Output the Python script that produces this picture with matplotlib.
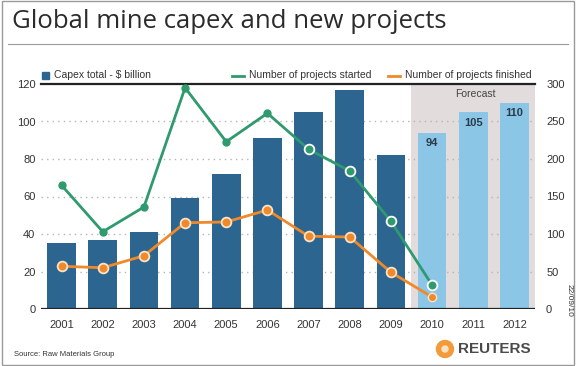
import matplotlib.pyplot as plt
import matplotlib.patches as mpatches
from matplotlib.lines import Line2D
import numpy as np

plt.rcParams["font.family"] = ["Liberation Sans", "DejaVu Sans"]

YEARS = ["2001", "2002", "2003", "2004", "2005", "2006", "2007", "2008",
         "2009", "2010", "2011", "2012"]
CAPEX = [35, 37, 41, 59, 72, 91, 105, 117, 82, 94, 105, 110]
STARTED = [165, 103, 136, 295, 223, 261, 213, 184, 117, 32]
FINISHED = [57, 55, 71, 115, 116, 132, 97, 96, 49, 16]
FORECAST_LABELS = ["94", "105", "110"]
LEFT_TICKS = [0, 20, 40, 60, 80, 100, 120]
RIGHT_TICKS = [0, 50, 100, 150, 200, 250, 300]

dark_blue = "#2c6590"
light_blue = "#8cc6e7"
green = "#2f9a6e"
orange = "#f0892a"
shade = "#e2dcdc"
grey_text = "#333333"

fig = plt.figure(figsize=(5.76, 3.66), dpi=100)
W, H = 576, 366

# frame and title
fig.patches.append(mpatches.Rectangle((0.004, 0.004), 0.992, 0.992, transform=fig.transFigure,
                                      fill=False, edgecolor="#9a9a9a", lw=1))
fig.text(12 / W, 1 - 22 / H, "Global mine capex and new projects", fontsize=18.5,
         family=["Open Sans", "DejaVu Sans"], color="#2b2b2b", va="center", ha="left")
fig.lines.append(Line2D([8 / W, 568 / W], [1 - 44 / H, 1 - 44 / H], transform=fig.transFigure,
                        color="#9a9a9a", lw=0.8))

ax = fig.add_axes([41 / W, 1 - 309 / H, 494 / W, 225 / H])
x = np.arange(len(YEARS))

ax.axvspan(8.5, 11.5, color=shade, zorder=0, lw=0)
for v in LEFT_TICKS[1:-1]:
    ax.axhline(v, color="#b5b5b5", lw=1, ls=(0, (1, 3)), zorder=1)

colors = [dark_blue] * 9 + [light_blue] * 3
ax.bar(x, CAPEX, width=0.7, color=colors, zorder=2)
for i, lab in zip(x[9:], FORECAST_LABELS):
    ax.text(i, CAPEX[i] - 3, lab, ha="center", va="top", fontsize=8, fontweight="bold",
            color="#2b3a4a", zorder=5)
ax.text(10.05, 120 - 2.5, "Forecast", ha="center", va="top", fontsize=7.5, color="#444444")

ax.axhline(0, color="#222222", lw=1.6, zorder=6)
ax.axhline(120, color="#222222", lw=1.6, zorder=6, clip_on=False)

ax.set_xlim(-0.5, 11.5)
ax.set_ylim(0, 120)
ax.set_yticks(LEFT_TICKS)
ax.set_xticks(x)
ax.set_xticklabels(YEARS)
ax.tick_params(length=0, labelsize=8, colors=grey_text, pad=8)
ax.tick_params(axis="y", pad=4)
for s in ax.spines.values():
    s.set_visible(False)

ax2 = ax.twinx()
ax2.set_ylim(0, 300)
ax2.set_yticks(RIGHT_TICKS)
ax2.tick_params(length=0, labelsize=8, colors=grey_text, pad=8)
for s in ax2.spines.values():
    s.set_visible(False)

xl = x[:len(STARTED)]
ax2.plot(xl, STARTED, color=green, lw=2, zorder=3)
ax2.plot(xl[:6], STARTED[:6], "o", color=green, ms=5, zorder=4)
ax2.plot(xl[6:], STARTED[6:], "o", color=green, ms=7, mec="white", mew=1.3, zorder=4)
ax2.plot(xl, FINISHED, color=orange, lw=2, zorder=3)
ax2.plot(xl[:9], FINISHED[:9], "o", color=orange, ms=7, mec="#fbe3c8", mew=1.3, zorder=4)
ax2.plot(xl[9:], FINISHED[9:], "o", color=orange, ms=6, mec="#fbe3c8", mew=1, zorder=4)

# legends
fig.patches.append(mpatches.Rectangle((42 / W, 1 - 79 / H), 7 / W, 7 / H, transform=fig.transFigure,
                                      color=dark_blue))
fig.text(54 / W, 1 - 75.5 / H, "Capex total - $ billion", fontsize=7.5, color=grey_text, va="center")
for lx, col, lab in [(232, green, "Number of projects started"),
                     (388, orange, "Number of projects finished")]:
    fig.lines.append(Line2D([lx / W, (lx + 12) / W], [1 - 75.5 / H] * 2, transform=fig.transFigure,
                            color=col, lw=2))
    fig.text((lx + 17) / W, 1 - 75.5 / H, lab, fontsize=7.5, color=grey_text, va="center")

# footer
fig.text(14 / W, 1 - 355 / H, "Source: Raw Materials Group", fontsize=5.5, color=grey_text, va="center")
fig.text(569 / W, 1 - 300 / H, "22/09/10", fontsize=6, color=grey_text, rotation=-90,
         ha="center", va="center")
fig.patches.append(mpatches.Ellipse((445 / W, 1 - 349 / H), 17 / W, 17 / H, transform=fig.transFigure,
                                    color="#f39a3c"))
fig.patches.append(mpatches.Ellipse((445 / W, 1 - 349 / H), 6 / W, 6 / H, transform=fig.transFigure,
                                    color="#fde2c2"))
fig.text(458 / W, 1 - 349 / H, "REUTERS", fontsize=11, fontweight="bold", color="#4a4a4a",
         va="center")

fig.savefig("out.png", dpi=100)
